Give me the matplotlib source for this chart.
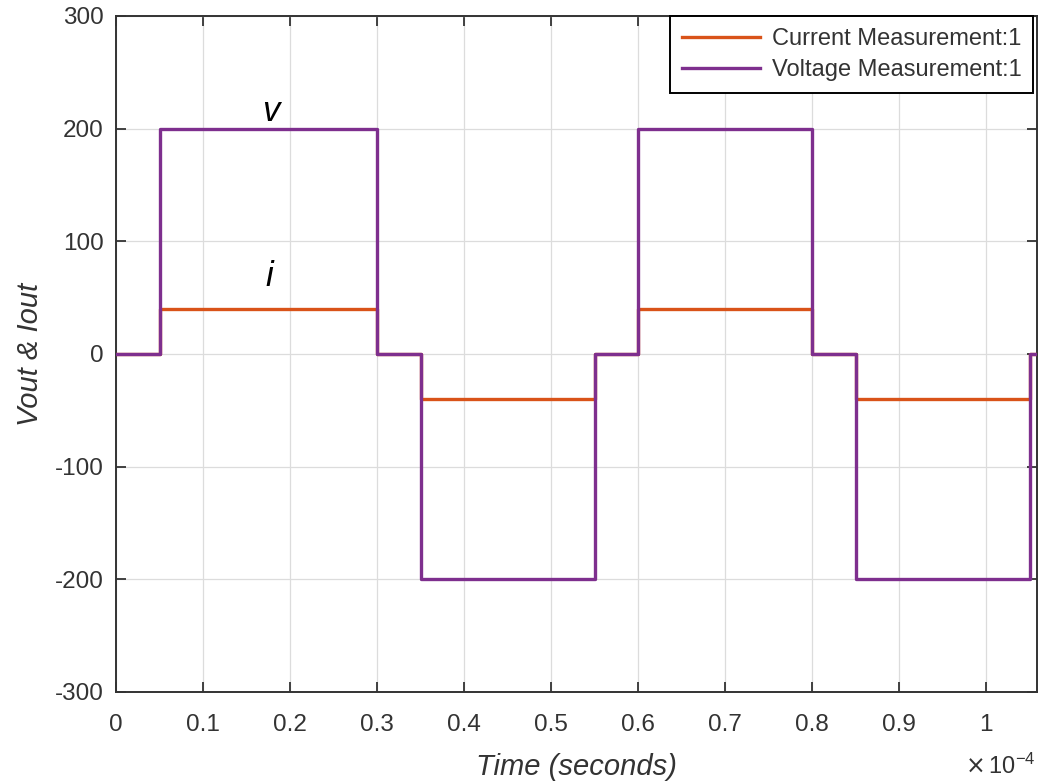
import matplotlib
matplotlib.use("Agg")
import matplotlib.pyplot as plt
import numpy as np

# switching instants (x1e-4 s) and voltage levels of the stepped waveform
t_edges = [0, 0.05, 0.3, 0.35, 0.55, 0.6, 0.8, 0.85, 1.05, 1.0586]
v_levels = [0, 200, 0, -200, 0, 200, 0, -200, 0]
i_levels = [0, 40, 0, -40, 0, 40, 0, -40, 0]

x_ticks = [0, 0.1, 0.2, 0.3, 0.4, 0.5, 0.6, 0.7, 0.8, 0.9, 1.0]
x_ticklabels = ["0", "0.1", "0.2", "0.3", "0.4", "0.5", "0.6", "0.7", "0.8", "0.9", "1"]
y_ticks = [-300, -200, -100, 0, 100, 200, 300]

plt.rcParams['font.family'] = ['Liberation Sans', 'DejaVu Sans']
plt.rcParams['axes.unicode_minus'] = False
txt = '#333333'

t = np.array(t_edges) * 1e-4
v = v_levels + [v_levels[-1]]
cur = i_levels + [i_levels[-1]]

fig = plt.figure(figsize=(10.42, 7.82), dpi=100)
ax = fig.add_axes([116 / 1042, 1 - 692 / 782, (1037 - 116) / 1042, (692 - 16) / 782])

ax.step(t, cur, where='post', color='#D95319', lw=2.4, label='Current Measurement:1', zorder=3)
ax.step(t, v, where='post', color='#7E2F8E', lw=2.4, label='Voltage Measurement:1', zorder=4)

ax.set_xlim(0, t_edges[-1] * 1e-4)
ax.set_ylim(-300, 300)
ax.set_xticks([x * 1e-4 for x in x_ticks])
ax.set_xticklabels(x_ticklabels)
ax.set_yticks(y_ticks)
ax.grid(True, color='#dcdcdc', lw=0.9)
ax.set_axisbelow(True)
ax.tick_params(direction='in', top=True, right=True, length=7, width=1.3,
               labelsize=17.5, colors=txt, pad=9)
ax.tick_params(axis='x', pad=16)
for s in ax.spines.values():
    s.set_color(txt)
    s.set_linewidth(1.4)

ax.set_xlabel('Time (seconds)', fontsize=21, style='italic', color=txt, labelpad=12)
ax.set_ylabel('Vout & Iout', fontsize=21, style='italic', color=txt, labelpad=8)
fig.text(1036 / 1042, 1 - 766 / 782, r'$\times\,\mathregular{10^{-4}}$', ha='right', va='center',
         fontsize=17, color=txt)

ax.text(0.168e-4, 201, 'v', fontsize=25, style='italic', ha='left', va='bottom')
ax.text(0.172e-4, 54, 'i', fontsize=25, style='italic', ha='left', va='bottom')

leg = ax.legend(loc='upper right', fontsize=17, frameon=True, fancybox=False,
                edgecolor='#000000', framealpha=1, borderaxespad=0.0,
                bbox_to_anchor=(0.996, 1.0),
                handlelength=3.3, labelspacing=0.4, borderpad=0.5, handletextpad=0.5)
leg.get_frame().set_linewidth(1.4)
for tx in leg.get_texts():
    tx.set_color(txt)

fig.savefig('out.png', dpi=100)
